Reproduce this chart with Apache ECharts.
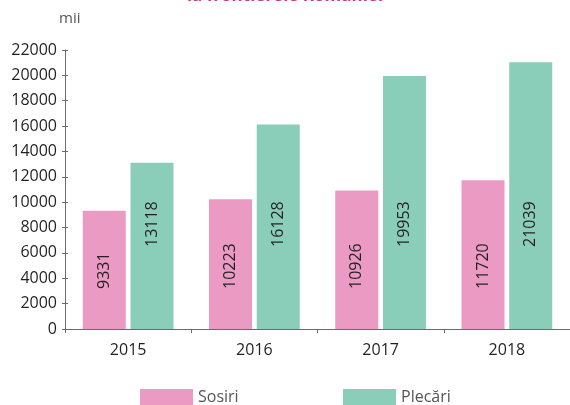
<!DOCTYPE html>
<html>
<head>
<meta charset="utf-8">
<script src="https://cdn.jsdelivr.net/npm/echarts@6/dist/echarts.min.js"></script>
<style>
  html, body { margin: 0; padding: 0; background: #fff; }
  #chart { width: 570px; height: 405px; }
</style>
</head>
<body>
<div id="chart"></div>
<script>
// Travellers at the Romanian borders, thousands per year
const years = ['2015', '2016', '2017', '2018'];
const arrivals = [9331, 10223, 10926, 11720];    // Sosiri
const departures = [13118, 16128, 19953, 21039]; // Plecări
const titleText = 'la frontierele României';
const unitText = 'mii';
const seriesNames = ['Sosiri', 'Plecări'];

const FONT = '"Open Sans", "Noto Sans", sans-serif';
const PINK = '#EB9AC3';
const GREEN = '#8ACEB9';
const AXIS = '#6b6b6b';
const TEXT = '#231f20';

// plain integers, no thousands separator
const plain = v => String(v);

const chart = echarts.init(document.getElementById('chart'), null, { renderer: 'canvas' });

const valueAxisBase = {
  type: 'value',
  min: 0,
  max: 22000,
  interval: 2000,
  splitLine: { show: false }
};

const barLabel = distance => ({
  show: true,
  position: 'insideBottom',
  distance: distance,
  rotate: 90,
  align: 'left',
  verticalAlign: 'middle',
  color: TEXT,
  fontFamily: FONT,
  fontSize: 16,
  formatter: p => plain(p.value)
});

chart.setOption({
  animation: false,
  // title line sits above the top edge, only its lower part shows
  graphic: [{
    type: 'text',
    x: 285,
    y: 5,
    style: {
      text: titleText,
      fill: '#C1388F',
      font: 'bold 17px ' + FONT,
      align: 'center',
      verticalAlign: 'bottom'
    }
  }],
  legend: [
    {
      data: [seriesNames[0]],
      left: 135, top: 384,
      icon: 'rect', itemWidth: 53, itemHeight: 16, itemGap: 7,
      textStyle: { color: '#555', fontFamily: FONT, fontSize: 16 }
    },
    {
      data: [seriesNames[1]],
      left: 338, top: 384,
      icon: 'rect', itemWidth: 53, itemHeight: 16, itemGap: 7,
      textStyle: { color: '#555', fontFamily: FONT, fontSize: 16 }
    }
  ],
  grid: { left: 65, top: 50, width: 508, height: 279, containLabel: false },
  xAxis: {
    type: 'category',
    data: years,
    axisLine: { lineStyle: { color: AXIS, width: 1 } },
    axisTick: { show: true, length: 4, lineStyle: { color: AXIS } },
    axisLabel: { color: TEXT, fontFamily: FONT, fontSize: 16, margin: 13 }
  },
  yAxis: [
    Object.assign({}, valueAxisBase, {
      name: unitText,
      nameLocation: 'end',
      nameGap: 24,
      nameTextStyle: { color: '#555', fontFamily: FONT, fontSize: 15, align: 'left', padding: [0, 0, 0, -6] },
      axisLine: { show: true, lineStyle: { color: AXIS, width: 1 } },
      axisTick: { show: true, length: 3, lineStyle: { color: AXIS } },
      axisLabel: { color: TEXT, fontFamily: FONT, fontSize: 16, margin: 8, formatter: plain }
    }),
    Object.assign({}, valueAxisBase, {
      position: 'left',
      axisLine: { show: false },
      axisTick: { show: true, inside: true, length: 3, lineStyle: { color: AXIS } },
      axisLabel: { show: false }
    })
  ],
  series: [
    {
      name: seriesNames[0],
      type: 'bar',
      data: arrivals,
      barWidth: 43,
      barGap: '11%',
      itemStyle: { color: PINK },
      label: barLabel(40)
    },
    {
      name: seriesNames[1],
      type: 'bar',
      data: departures,
      barWidth: 43,
      itemStyle: { color: GREEN },
      label: barLabel(82)
    }
  ]
});
</script>
</body>
</html>
